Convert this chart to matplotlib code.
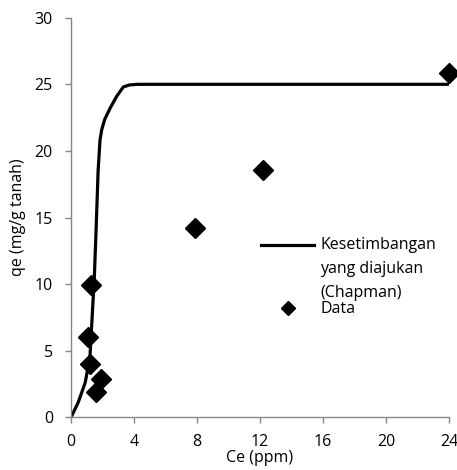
import numpy as np
import matplotlib.pyplot as plt
from matplotlib.lines import Line2D

#measured data points
ceData = [1.05, 1.3, 1.2, 1.57, 1.9, 7.9, 12.2, 24.0]
qeData = [6.05, 9.9, 4.0, 1.9, 2.85, 14.2, 18.55, 25.85]

#proposed equilibrium curve (Chapman)
ceModel = [0.0, 0.45, 0.9, 1.2, 1.48, 1.59, 1.72, 1.84, 1.95, 2.15, 2.48, 2.9, 3.32, 3.7, 4.2, 24.0]
qeModel = [0.0, 1.1, 2.6, 4.5, 10.5, 14.0, 18.5, 20.8, 21.6, 22.4, 23.2, 24.1, 24.8, 24.95, 25.0, 25.0]

xTicks = [0, 4, 8, 12, 16, 20, 24]
yTicks = [0, 5, 10, 15, 20, 25, 30]
legendLabels = ["Kesetimbangan", "yang diajukan", "(Chapman)", "Data"]

plt.rcParams['font.family'] = ['Open Sans', 'DejaVu Sans']
fontSize = 11.5
fig = plt.figure(figsize=(4.57, 4.70), dpi=100)
ax = fig.add_axes([0.1554, 0.1121, 0.8271, 0.8502])

ax.plot(ceModel, qeModel, color="black", linewidth=2.3, zorder=2)
ax.plot(ceData, qeData, linestyle="none", marker="D", markersize=10, color="black", zorder=3, clip_on=False)

ax.set_xlim(0, 24)
ax.set_ylim(0, 30)
ax.set_xticks(xTicks)
ax.set_yticks(yTicks)
ax.tick_params(labelsize=fontSize, colors="#868686", labelcolor="black", length=4, width=1)
ax.tick_params(axis="x", pad=8)
ax.tick_params(axis="y", pad=9)
for side in ["top", "right"]:
	ax.spines[side].set_visible(False)
for side in ["left", "bottom"]:
	ax.spines[side].set_color("#868686")
	ax.spines[side].set_linewidth(1)

ax.set_xlabel("Ce (ppm)", fontsize=fontSize, labelpad=0)
ax.set_ylabel("qe (mg/g tanah)", fontsize=fontSize, labelpad=6)

#manual legend, line handle at the first text row
fig.add_artist(Line2D([261/457, 314/457], [1-245/470, 1-245/470], color="black", linewidth=2.3))
for rowY, label in zip([245, 269, 293], legendLabels[:3]):
	fig.text(320/457, 1-rowY/470, label, fontsize=fontSize, va="center", ha="left")
fig.add_artist(Line2D([288/457], [1-308/470], color="black", marker="D", markersize=7, linestyle="none"))
fig.text(320/457, 1-309/470, legendLabels[3], fontsize=fontSize, va="center", ha="left")

fig.savefig("out.png", dpi=100)
